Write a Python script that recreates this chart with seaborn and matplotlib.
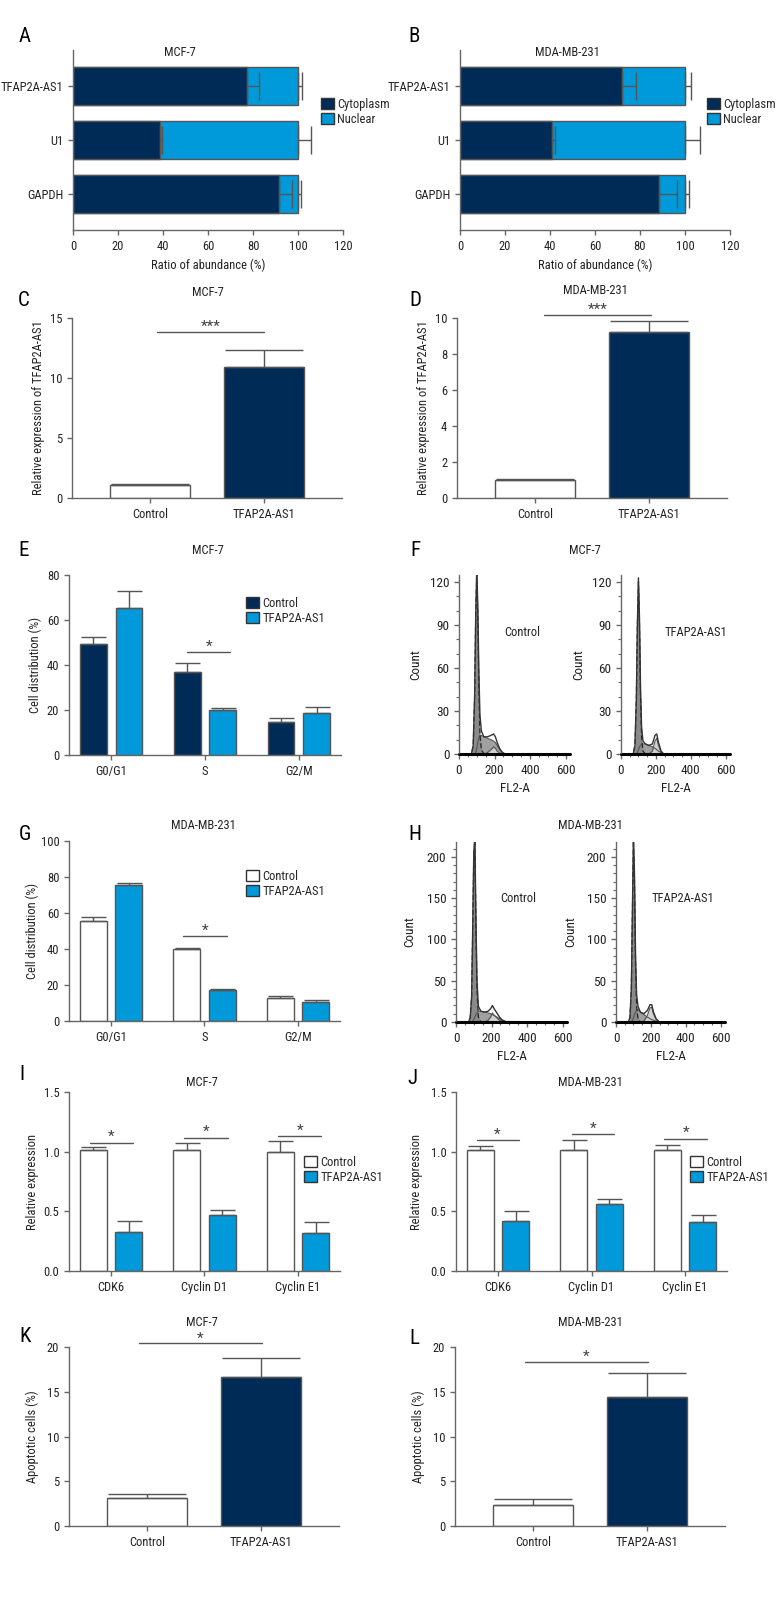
import numpy as np
import pandas as pd
import seaborn as sns
import matplotlib.pyplot as plt
from matplotlib.patches import Patch
from matplotlib.ticker import MultipleLocator, FormatStrFormatter
from matplotlib import font_manager as fm

NAVY = "#002b57"
SKY = "#009ada"
EDGE = "#555555"
AXC = "#666666"

# ---------- values ----------
# A / B : subcellular fractionation
genes = ["TFAP2A-AS1", "U1", "GAPDH"]
mcf_cyto = [77.3, 38.7, 91.5]
mcf_cyto_sd = [5.4, 0.9, 5.7]
mcf_nuc = [22.7, 61.3, 8.5]
mcf_nuc_sd = [1.6, 5.8, 1.3]
mda_cyto = [72.0, 40.9, 88.4]
mda_cyto_sd = [6.2, 1.3, 8.0]
mda_nuc = [28.0, 59.1, 11.6]
mda_nuc_sd = [2.7, 6.7, 1.8]

# C / D : overexpression
groups = ["Control", "TFAP2A-AS1"]
mcf_expr = [1.1, 10.95]
mcf_expr_sd = [0.05, 1.35]
mda_expr = [1.0, 9.2]
mda_expr_sd = [0.08, 0.62]

# E / G : cell cycle
phases = ["G0/G1", "S", "G2/M"]
mcf_cyc_ctrl = [49.5, 37.0, 14.5]
mcf_cyc_ctrl_sd = [3.0, 4.0, 2.0]
mcf_cyc_tfap = [65.5, 20.0, 18.5]
mcf_cyc_tfap_sd = [7.5, 1.0, 3.0]
mda_cyc_ctrl = [55.5, 40.0, 13.0]
mda_cyc_ctrl_sd = [2.0, 0.8, 1.0]
mda_cyc_tfap = [75.5, 17.0, 10.5]
mda_cyc_tfap_sd = [1.0, 1.0, 1.0]

# I / J : cyclins
genes2 = ["CDK6", "Cyclin D1", "Cyclin E1"]
mcf_rel_ctrl = [1.01, 1.01, 1.00]
mcf_rel_ctrl_sd = [0.03, 0.06, 0.09]
mcf_rel_tfap = [0.33, 0.47, 0.32]
mcf_rel_tfap_sd = [0.09, 0.04, 0.09]
mda_rel_ctrl = [1.01, 1.01, 1.01]
mda_rel_ctrl_sd = [0.04, 0.09, 0.05]
mda_rel_tfap = [0.42, 0.56, 0.41]
mda_rel_tfap_sd = [0.08, 0.04, 0.06]

# K / L : apoptosis
mcf_apop = [3.1, 16.7]
mcf_apop_sd = [0.5, 2.1]
mda_apop = [2.4, 14.4]
mda_apop_sd = [0.65, 2.7]

# F / H : flow cytometry histograms (counts per FL2-A channel, per fitted component)
fl2 = [0, 70, 80, 88, 94, 100, 106, 112, 118, 126, 140, 160, 180, 195, 205, 215, 230, 245, 260, 280, 625]
f_ctrl_g1 = [0, 0, 6, 40, 95, 125, 95, 45, 14, 3, 0, 0, 0, 0, 0, 0, 0, 0, 0, 0, 0]
f_ctrl_s = [0, 0, 0, 0, 1, 4, 8, 11, 13, 13, 12, 11, 10, 9, 8, 6, 3, 1, 0, 0, 0]
f_ctrl_g2 = [0, 0, 0, 0, 0, 0, 0, 0, 0, 0, 0, 1, 3, 5, 4, 2, 0.5, 0, 0, 0, 0]
f_tfap_g1 = [0, 0, 6, 38, 90, 120, 90, 40, 12, 2, 0, 0, 0, 0, 0, 0, 0, 0, 0, 0, 0]
f_tfap_s = [0, 0, 0, 0, 1, 3, 5, 6, 7, 7, 7, 6, 5, 4, 3, 2, 1, 0, 0, 0, 0]
f_tfap_g2 = [0, 0, 0, 0, 0, 0, 0, 0, 0, 0, 0, 0, 2, 9, 11, 6, 1, 0, 0, 0, 0]
h_ctrl_g1 = [0, 0, 5, 30, 110, 200, 220, 120, 40, 6, 0, 0, 0, 0, 0, 0, 0, 0, 0, 0, 0]
h_ctrl_s = [0, 0, 0, 0, 1, 3, 6, 9, 11, 13, 13, 12, 11, 10, 9, 8, 6, 4, 2, 0.5, 0]
h_ctrl_g2 = [0, 0, 0, 0, 0, 0, 0, 0, 0, 0, 0, 0, 2, 6, 11, 8, 5, 2, 0.5, 0, 0]
h_tfap_g1 = [0, 0, 5, 40, 130, 220, 170, 70, 20, 4, 0, 0, 0, 0, 0, 0, 0, 0, 0, 0, 0]
h_tfap_s = [0, 0, 0, 0, 2, 5, 9, 12, 14, 15, 12, 9, 6, 4, 3, 2, 1, 0, 0, 0, 0]
h_tfap_g2 = [0, 0, 0, 0, 0, 0, 0, 0, 0, 0, 0, 1, 8, 17, 18, 10, 3, 0.5, 0, 0, 0]

# ---------- style ----------
sns.set_theme(style="ticks")
names = {f.name for f in fm.fontManager.ttflist}
fam = next((n for n in ["Liberation Sans Narrow", "DejaVu Sans Condensed", "Roboto Condensed"] if n in names), "DejaVu Sans")
plt.rcParams["font.family"] = [fam, "DejaVu Sans"]
plt.rcParams["axes.linewidth"] = 1.0

W, H = 780, 1620
fig = plt.figure(figsize=(W / 100, H / 100), dpi=100)
TXT = 9


def box(l, t, w, h):
    return fig.add_axes([l / W, 1 - (t + h) / H, w / W, h / H])


def ftext(x, y, s, size=TXT, **kw):
    fig.text(x / W, 1 - y / H, s, ha=kw.pop("ha", "center"), va=kw.pop("va", "center"),
             fontsize=size, color=kw.pop("color", "#222222"), **kw)


def clean(ax, size=TXT):
    sns.despine(ax=ax)
    for sp in ["left", "bottom"]:
        ax.spines[sp].set_color(AXC)
        ax.spines[sp].set_linewidth(1.0)
    ax.tick_params(colors=AXC, labelcolor="#222222", labelsize=size, length=3.5, width=1)
    ax.xaxis.label.set_size(size)
    ax.yaxis.label.set_size(size)
    ax.xaxis.label.set_color("#222222")
    ax.yaxis.label.set_color("#222222")


def upper_err(ax, patches, sds, cap, horiz=False):
    for b, sd in zip(patches, sds):
        if horiz:
            ax.errorbar(b.get_width(), b.get_y() + b.get_height() / 2, xerr=[[0], [sd]],
                        fmt="none", ecolor=EDGE, elinewidth=1, capsize=cap, capthick=1, zorder=5)
        else:
            ax.errorbar(b.get_x() + b.get_width() / 2, b.get_height(), yerr=[[0], [sd]],
                        fmt="none", ecolor=EDGE, elinewidth=1, capsize=cap, capthick=1, zorder=5)


def sig(ax, x0, x1, y, txt, dy, size=11):
    ax.plot([x0, x1], [y, y], color=EDGE, lw=1, clip_on=False)
    ax.text((x0 + x1) / 2, y + dy, txt, ha="center", va="center", fontsize=size, color="#444444")


def legend(handles, x, y):
    fig.legend(handles=handles, loc="upper left", bbox_to_anchor=(x / W, 1 - y / H),
               bbox_transform=fig.transFigure, frameon=False, fontsize=9, handlelength=1.0,
               handleheight=1.0, handletextpad=0.3, labelspacing=0.15, borderpad=0, borderaxespad=0)


# ---------- A / B ----------
def fraction(ax, cyto, cyto_sd, nuc, nuc_sd):
    tot = np.add(cyto, nuc)
    sns.barplot(x=tot, y=genes, orient="h", color=SKY, saturation=1, edgecolor=EDGE,
                linewidth=1, width=0.7, ax=ax)
    sns.barplot(x=cyto, y=genes, orient="h", color=NAVY, saturation=1, edgecolor=EDGE,
                linewidth=1, width=0.7, ax=ax)
    upper_err(ax, ax.patches[:3], nuc_sd, 10, horiz=True)
    upper_err(ax, ax.patches[3:6], cyto_sd, 10, horiz=True)
    ax.set_xlim(0, 120)
    ax.set_xticks(range(0, 121, 20))
    ax.set_ylim(2.67, -0.67)
    ax.set_xlabel("Ratio of abundance (%)")
    ax.set_ylabel("")
    clean(ax)


axA = box(73, 50, 270, 180)
fraction(axA, mcf_cyto, mcf_cyto_sd, mcf_nuc, mcf_nuc_sd)
axB = box(460, 50, 270, 180)
fraction(axB, mda_cyto, mda_cyto_sd, mda_nuc, mda_nuc_sd)
frac_handles = [Patch(facecolor=NAVY, edgecolor="#333333", label="Cytoplasm"),
                Patch(facecolor=SKY, edgecolor="#333333", label="Nuclear")]
legend(frac_handles, 321, 98)
legend(frac_handles, 707, 98)


# ---------- two-bar panels ----------
def twobar(ax, vals, sds, cap):
    sns.barplot(x=groups, y=vals, hue=groups, palette=["white", NAVY], saturation=1,
                edgecolor=EDGE, linewidth=1, width=0.7, legend=False, ax=ax)
    upper_err(ax, ax.patches[:2], sds, cap)
    ax.set_xlim(-0.68, 1.68)
    clean(ax)


axC = box(72, 318, 270, 180)
twobar(axC, mcf_expr, mcf_expr_sd, 28)
axC.set_ylim(0, 15)
axC.set_yticks([0, 5, 10, 15])
axC.set_ylabel("Relative expression of TFAP2A-AS1")
axC.yaxis.set_label_coords(-0.1, 0.5)
sig(axC, 0.06, 1.0, 13.8, "***", 0.45)

axD = box(457, 318, 270, 180)
twobar(axD, mda_expr, mda_expr_sd, 28)
axD.set_ylim(0, 10)
axD.set_yticks(range(0, 11, 2))
axD.set_ylabel("Relative expression of TFAP2A-AS1")
axD.yaxis.set_label_coords(-0.1, 0.5)
sig(axD, 0.08, 1.02, 10.17, "***", 0.3)

axK = box(69, 1347, 270, 179)
twobar(axK, mcf_apop, mcf_apop_sd, 28)
axK.set_ylim(0, 20)
axK.set_yticks(range(0, 21, 5))
axK.set_ylabel("Apoptotic cells (%)")
axK.yaxis.set_label_coords(-0.11, 0.5)
sig(axK, -0.07, 1.01, 20.4, "*", 0.55)

axL = box(455, 1347, 270, 179)
twobar(axL, mda_apop, mda_apop_sd, 28)
axL.set_ylim(0, 20)
axL.set_yticks(range(0, 21, 5))
axL.set_ylabel("Apoptotic cells (%)")
axL.yaxis.set_label_coords(-0.11, 0.5)
sig(axL, -0.07, 1.01, 18.3, "*", 0.55)


# ---------- grouped panels ----------
def grouped(ax, cats, ctrl, ctrl_sd, tfap, tfap_sd, ctrl_color, cap=9):
    df = pd.DataFrame({"cat": cats * 2, "val": ctrl + tfap,
                       "grp": ["Control"] * len(cats) + ["TFAP2A-AS1"] * len(cats)})
    sns.barplot(data=df, x="cat", y="val", hue="grp", palette=[ctrl_color, SKY], saturation=1,
                edgecolor=EDGE, linewidth=1, width=0.76, gap=0.25, legend=False, ax=ax)
    upper_err(ax, ax.patches[:2 * len(cats)], ctrl_sd + tfap_sd, cap)
    ax.set_xlim(-0.45, 2.45)
    ax.set_xlabel("")
    clean(ax)


axE = box(69, 575, 272, 180)
grouped(axE, phases, mcf_cyc_ctrl, mcf_cyc_ctrl_sd, mcf_cyc_tfap, mcf_cyc_tfap_sd, NAVY)
axE.set_ylim(0, 80)
axE.set_yticks(range(0, 81, 20))
axE.set_ylabel("Cell distribution (%)")
axE.yaxis.set_label_coords(-0.1, 0.5)
sig(axE, 0.81, 1.27, 45.8, "*", 2.4)
legend([Patch(facecolor=NAVY, edgecolor="#333333", label="Control"),
        Patch(facecolor=SKY, edgecolor="#333333", label="TFAP2A-AS1")], 246, 597)

axG = box(69, 841, 271, 180)
grouped(axG, phases, mda_cyc_ctrl, mda_cyc_ctrl_sd, mda_cyc_tfap, mda_cyc_tfap_sd, "white")
axG.set_ylim(0, 100)
axG.set_yticks(range(0, 101, 20))
axG.set_ylabel("Cell distribution (%)")
axG.yaxis.set_label_coords(-0.11, 0.5)
sig(axG, 0.77, 1.24, 47, "*", 3.0)
open_handles = [Patch(facecolor="white", edgecolor="#333333", label="Control"),
                Patch(facecolor=SKY, edgecolor="#333333", label="TFAP2A-AS1")]
legend(open_handles, 246, 870)

axI = box(69, 1092, 271, 179)
grouped(axI, genes2, mcf_rel_ctrl, mcf_rel_ctrl_sd, mcf_rel_tfap, mcf_rel_tfap_sd, "white")
axI.set_ylim(0, 1.5)
axI.set_yticks([0, 0.5, 1.0, 1.5])
axI.yaxis.set_major_formatter(FormatStrFormatter("%.1f"))
axI.set_ylabel("Relative expression")
axI.yaxis.set_label_coords(-0.11, 0.5)
for x0, x1, y in [(-0.23, 0.24, 1.075), (0.78, 1.25, 1.117), (1.79, 2.25, 1.13)]:
    sig(axI, x0, x1, y, "*", 0.045)
legend(open_handles, 304, 1156)

axJ = box(456, 1092, 271, 179)
grouped(axJ, genes2, mda_rel_ctrl, mda_rel_ctrl_sd, mda_rel_tfap, mda_rel_tfap_sd, "white")
axJ.set_ylim(0, 1.5)
axJ.set_yticks([0, 0.5, 1.0, 1.5])
axJ.yaxis.set_major_formatter(FormatStrFormatter("%.1f"))
axJ.set_ylabel("Relative expression")
axJ.yaxis.set_label_coords(-0.12, 0.5)
for x0, x1, y in [(-0.23, 0.22, 1.10), (0.79, 1.24, 1.15), (1.78, 2.24, 1.11)]:
    sig(axJ, x0, x1, y, "*", 0.045)
legend(open_handles, 690, 1156)


# ---------- flow histograms ----------
def flow(ax, g1, s, g2, ymax, step, minor):
    x = np.array(fl2, float)
    g1, s, g2 = np.array(g1, float), np.array(s, float), np.array(g2, float)
    ax.fill_between(x, 0, s, color="#a0a0a0", lw=0)
    ax.fill_between(x, 0, g2, color="#d0d0d0", lw=0)
    ax.fill_between(x, 0, g1, color="#8a8a8a", lw=0)
    for comp in (s, g2):
        ax.plot(x, comp, color="#555555", lw=0.8)
    ax.plot(x, g1, color="#222222", lw=0.9, ls=(0, (4, 2)))
    sns.lineplot(x=x, y=g1 + s + g2, color="#333333", lw=1.0, ax=ax)
    ax.plot([0, 625], [0, 0], color="black", lw=2.2, clip_on=False)
    ax.set_xlim(0, 625)
    ax.set_ylim(0, ymax)
    ax.set_xticks([0, 200, 400, 600])
    ax.set_yticks(range(0, int(ymax) + 1, step))
    ax.xaxis.set_minor_locator(MultipleLocator(50))
    ax.yaxis.set_minor_locator(MultipleLocator(minor))
    ax.set_xlabel("FL2-A")
    ax.set_ylabel("Count")
    clean(ax, size=9.5)
    ax.tick_params(which="minor", length=2, width=0.8, colors=AXC)
    ax.spines["bottom"].set_color("black")


axF1 = box(459, 575, 111, 179)
flow(axF1, f_ctrl_g1, f_ctrl_s, f_ctrl_g2, 125, 30, 10)
axF1.yaxis.set_label_coords(-0.33, 0.5)
axF2 = box(621, 575, 109, 179)
flow(axF2, f_tfap_g1, f_tfap_s, f_tfap_g2, 125, 30, 10)
axF2.yaxis.set_label_coords(-0.33, 0.5)
ftext(522, 632, "Control")
ftext(696, 632, "TFAP2A-AS1")

axH1 = box(456, 842, 111, 180)
flow(axH1, h_ctrl_g1, h_ctrl_s, h_ctrl_g2, 218, 50, 10)
axH1.yaxis.set_label_coords(-0.36, 0.5)
axH2 = box(616, 842, 109, 180)
flow(axH2, h_tfap_g1, h_tfap_s, h_tfap_g2, 218, 50, 10)
axH2.yaxis.set_label_coords(-0.36, 0.5)
ftext(518, 899, "Control")
ftext(683, 899, "TFAP2A-AS1")

# ---------- titles and panel letters ----------
for x, y, t in [(180, 53, "MCF-7"), (567, 53, "MDA-MB-231"), (208, 292, "MCF-7"),
                (595, 290, "MDA-MB-231"), (208, 550, "MCF-7"), (585, 550, "MCF-7"),
                (203, 825, "MDA-MB-231"), (590, 825, "MDA-MB-231"), (202, 1082, "MCF-7"),
                (590, 1083, "MDA-MB-231"), (202, 1322, "MCF-7"), (590, 1322, "MDA-MB-231")]:
    ftext(x, y, t)

for x, y, t in [(25, 37, "A"), (414, 37, "B"), (24, 300, "C"), (415, 300, "D"),
                (24, 550, "E"), (415, 550, "F"), (25, 835, "G"), (415, 835, "H"),
                (22, 1075, "I"), (412, 1078, "J"), (25, 1337, "K"), (414, 1338, "L")]:
    ftext(x, y, t, size=15, color="black")

fig.savefig("out.png", dpi=100)
